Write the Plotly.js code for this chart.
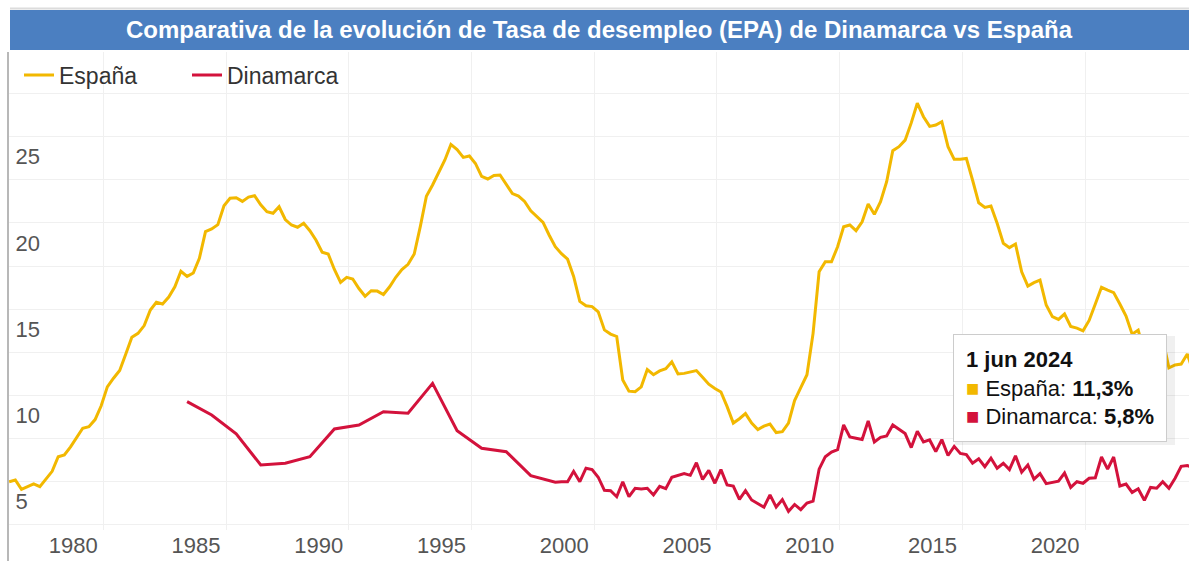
<!DOCTYPE html>
<html><head><meta charset="utf-8">
<script src="https://cdn.plot.ly/plotly-3.0.1.min.js"></script>
<style>html,body{margin:0;padding:0;background:#fff;overflow:hidden}#chart{width:1189px;height:561px}</style>
</head><body><div id="chart"></div>
<script>
// ---------- data ----------
const titleText = 'Comparativa de la evolución de Tasa de desempleo (EPA) de Dinamarca vs España';
const seriesNames = ['España', 'Dinamarca'];
const seriesColors = ['#F2B800', '#D3123C'];

// España: quarterly, first point March 1976
const spainStart = '1976-03-01';
const spainValues = [
  5.0, 5.1, 4.56, 4.72, 4.87, 4.71, 5.14, 5.6, 6.45, 6.55,
  7.02, 7.55, 8.1, 8.19, 8.6, 9.4, 10.5, 11.0, 11.45, 12.4,
  13.37, 13.6, 14.05, 14.95, 15.4, 15.3, 15.7, 16.3, 17.2, 16.9,
  17.1, 17.95, 19.5, 19.65, 19.9, 21.0, 21.43, 21.46, 21.25, 21.5,
  21.58, 21.05, 20.65, 20.56, 20.94, 20.2, 19.88, 19.75, 19.98, 19.55,
  19.0, 18.3, 18.2, 17.3, 16.55, 16.85, 16.75, 16.2, 15.75, 16.07,
  16.05, 15.85, 16.3, 16.85, 17.3, 17.6, 18.2, 19.8, 21.55, 22.2,
  22.95, 23.65, 24.55, 24.25, 23.8, 23.88, 23.45, 22.7, 22.55, 22.75,
  22.78, 22.2, 21.7, 21.56, 21.25, 20.7, 20.35, 20.03, 19.3, 18.62,
  18.22, 17.9, 16.9, 15.45, 15.2, 15.15, 14.85, 13.8, 13.56, 13.42,
  10.9, 10.25, 10.22, 10.5, 11.5, 11.2, 11.42, 11.55, 11.95, 11.25,
  11.28, 11.35, 11.44, 11.05, 10.65, 10.4, 10.2, 9.35, 8.4, 8.65,
  8.95, 8.4, 8.02, 8.22, 8.34, 7.85, 7.9, 8.4, 9.7, 10.45,
  11.2, 13.6, 17.17, 17.75, 17.75, 18.62, 19.78, 19.88, 19.55, 20.07,
  21.1, 20.5, 21.23, 22.39, 24.19, 24.42, 24.8, 25.8, 26.94, 26.16,
  25.6, 25.68, 25.87, 24.42, 23.69, 23.69, 23.74, 22.49, 21.17, 20.9,
  20.98, 19.98, 18.82, 18.57, 18.78, 17.17, 16.34, 16.54, 16.69, 15.24,
  14.57, 14.41, 14.72, 14.0, 13.9, 13.75, 14.35, 15.3, 16.27, 16.1,
  15.96, 15.3, 14.6, 13.55, 13.79, 12.5, 12.7, 12.9, 13.3, 11.6,
  11.77, 11.82, 12.4, 11.3
];

// Dinamarca: yearly (June) 1983-1998, then quarterly from September 1998
const denmarkAnnualYears = [1983, 1984, 1985, 1986, 1987, 1988, 1989, 1990, 1991, 1992, 1993, 1994, 1995, 1996, 1997, 1998];
const denmarkAnnualValues = [9.64, 8.87, 7.77, 5.97, 6.07, 6.45, 8.06, 8.29, 9.06, 8.97, 10.7, 7.96, 6.94, 6.74, 5.35, 4.97];
const denmarkQuarterStart = '1998-09-01';
const denmarkQuarterValues = [
  5.0, 5.0, 5.6, 5.0, 5.78, 5.7, 5.26, 4.5, 4.48, 4.13,
  5.0, 4.13, 4.62, 4.58, 4.62, 4.23, 4.73, 4.6, 5.26, 5.38,
  5.47, 5.37, 6.1, 5.13, 5.66, 4.91, 5.7, 4.81, 4.75, 3.98,
  4.48, 3.94, 3.75, 3.52, 4.24, 3.53, 3.96, 3.28, 3.68, 3.38,
  3.76, 3.87, 5.73, 6.45, 6.72, 6.86, 8.29, 7.59, 7.52, 7.45,
  8.52, 7.3, 7.57, 7.65, 8.29, 8.04, 7.79, 6.98, 7.93, 7.3,
  7.42, 6.74, 7.44, 6.52, 7.05, 6.64, 6.57, 6.07, 6.33, 5.87,
  6.36, 5.78, 6.07, 5.7, 6.5, 5.55, 5.97, 5.15, 5.47, 4.89,
  4.94, 5.03, 5.5, 4.67, 5.0, 4.91, 5.2, 5.23, 6.43, 5.73,
  6.43, 4.75, 4.86, 4.38, 4.59, 3.92, 4.67, 4.62, 5.0, 4.62,
  5.2, 5.89, 5.94, 5.8
];

const xTickYears = [1980, 1985, 1990, 1995, 2000, 2005, 2010, 2015, 2020];
const yTickVals = [2.5, 5, 7.5, 10, 12.5, 15, 17.5, 20, 22.5, 25, 27.5];
const yTickText = ['', '5', '', '10', '', '15', '', '20', '', '25', ''];
const monthNames = ['ene', 'feb', 'mar', 'abr', 'may', 'jun', 'jul', 'ago', 'sep', 'oct', 'nov', 'dic'];

// ---------- helpers ----------
function quarterDates(start, n) {
  const [y0, m0] = start.split('-').map(Number);
  const out = [];
  for (let i = 0; i < n; i++) {
    const mi = (m0 - 1) + 3 * i;
    const y = y0 + Math.floor(mi / 12);
    const m = (mi % 12) + 1;
    out.push(y + '-' + String(m).padStart(2, '0') + '-01');
  }
  return out;
}
const spainDates = quarterDates(spainStart, spainValues.length);
const denmarkDates = denmarkAnnualYears.map(y => y + '-06-01')
  .concat(quarterDates(denmarkQuarterStart, denmarkQuarterValues.length));
const denmarkValues = denmarkAnnualValues.concat(denmarkQuarterValues);

const FONT = 'Liberation Sans, Arial, sans-serif';

// plot area in pixels
const PL = 9, PR = 1189, PT = 52, PB = 530;
const px2x = px => (px - PL) / (PR - PL);
const px2y = py => (PB - py) / (PB - PT);

const lastS = spainValues[spainValues.length - 1];
const lastD = denmarkValues[denmarkValues.length - 1];
const lastDate = spainDates[spainDates.length - 1];
const [ly, lm, ld] = lastDate.split('-').map(Number);
const fmt = v => v.toFixed(1).replace('.', ',');
const tipText = '<b>' + ld + ' ' + monthNames[lm - 1] + ' ' + ly + '</b><br>' +
  '<span style="color:' + seriesColors[0] + '">■</span> ' + seriesNames[0] + ': <b>' + fmt(lastS) + '%</b><br>' +
  '<span style="color:' + seriesColors[1] + '">■</span> ' + seriesNames[1] + ': <b>' + fmt(lastD) + '%</b>';

const traces = [
  {x: spainDates, y: spainValues, name: seriesNames[0], type: 'scatter', mode: 'lines',
   line: {color: seriesColors[0], width: 3}, hoverinfo: 'skip'},
  {x: denmarkDates, y: denmarkValues, name: seriesNames[1], type: 'scatter', mode: 'lines',
   line: {color: seriesColors[1], width: 3}, hoverinfo: 'skip'},
  {x: [lastDate], y: [lastS], type: 'scatter', mode: 'markers', showlegend: false, cliponaxis: false,
   marker: {color: seriesColors[0], size: 13, line: {color: '#bbbbbb', width: 2}}, hoverinfo: 'skip'},
  {x: [denmarkDates[denmarkDates.length - 1]], y: [lastD], type: 'scatter', mode: 'markers', showlegend: false, cliponaxis: false,
   marker: {color: seriesColors[1], size: 13, line: {color: '#ffffff', width: 1}}, hoverinfo: 'skip'}
];

const layout = {
  width: 1189, height: 561,
  margin: {l: PL, r: 1189 - PR, t: PT, b: 561 - PB, pad: 0},
  paper_bgcolor: '#ffffff', plot_bgcolor: '#ffffff',
  font: {family: FONT, color: '#555555', size: 22},
  hovermode: false,
  title: {
    text: titleText, x: 0.5, xref: 'paper', xanchor: 'center',
    y: 1 - 30 / 561, yref: 'container', yanchor: 'middle',
    font: {family: FONT, size: 24, color: '#ffffff', weight: 'bold'}
  },
  showlegend: true,
  legend: {
    orientation: 'h', x: px2x(19), xanchor: 'left', y: px2y(75), yanchor: 'middle',
    bgcolor: 'rgba(0,0,0,0)', font: {family: FONT, size: 23, color: '#333333'},
    entrywidth: 123, entrywidthmode: 'pixels', itemclick: false, itemdoubleclick: false
  },
  xaxis: {
    type: 'date', range: ['1976-02-28', '2024-03-26'],
    tickvals: xTickYears.map(y => y + '-01-01'), ticktext: xTickYears.map(String),
    ticklabelshift: -30, ticks: '', ticklen: 0, showgrid: true, gridcolor: '#f0f0f0', gridwidth: 1,
    zeroline: false, showline: false, fixedrange: true,
    tickfont: {family: FONT, size: 22, color: '#555555'}
  },
  yaxis: {
    range: [2.20, 29.91], tickvals: yTickVals, ticktext: yTickText,
    ticklabelposition: 'inside', ticklabelshift: 20, ticklabelstandoff: 8,
    ticks: '', showgrid: true, gridcolor: '#f0f0f0', gridwidth: 1,
    zeroline: false, showline: true, linecolor: '#b8b8b8', linewidth: 2, fixedrange: true,
    tickfont: {family: FONT, size: 22, color: '#555555'}
  },
  shapes: [
    {type: 'rect', xref: 'paper', yref: 'paper', x0: px2x(10), x1: 1, y0: px2y(50), y1: px2y(10),
     fillcolor: '#4B7FC1', line: {width: 0}, layer: 'above'},
    {type: 'line', xref: 'paper', yref: 'paper', x0: px2x(10), x1: 1, y0: px2y(8.5), y1: px2y(8.5),
     line: {color: '#dcdcdc', width: 2}, layer: 'above'},
    {type: 'line', xref: 'paper', yref: 'paper', x0: px2x(8), x1: px2x(8), y0: 0, y1: px2y(561),
     line: {color: '#b8b8b8', width: 2}, layer: 'above'},
    {type: 'rect', xref: 'paper', yref: 'paper', x0: px2x(955), x1: px2x(1175), y0: px2y(445), y1: px2y(336),
     fillcolor: 'rgba(0,0,0,0.06)', line: {width: 0}, layer: 'above'}
  ],
  annotations: [
    {xref: 'paper', yref: 'paper', x: px2x(953), y: px2y(334), xanchor: 'left', yanchor: 'top',
     text: tipText, showarrow: false, align: 'left', bgcolor: '#ffffff', bordercolor: '#cccccc',
     borderwidth: 1, borderpad: 12, font: {family: FONT, size: 22, color: '#111111'}}
  ]
};

Plotly.newPlot('chart', traces, layout, {displayModeBar: false, staticPlot: true});
</script>
</body></html>
